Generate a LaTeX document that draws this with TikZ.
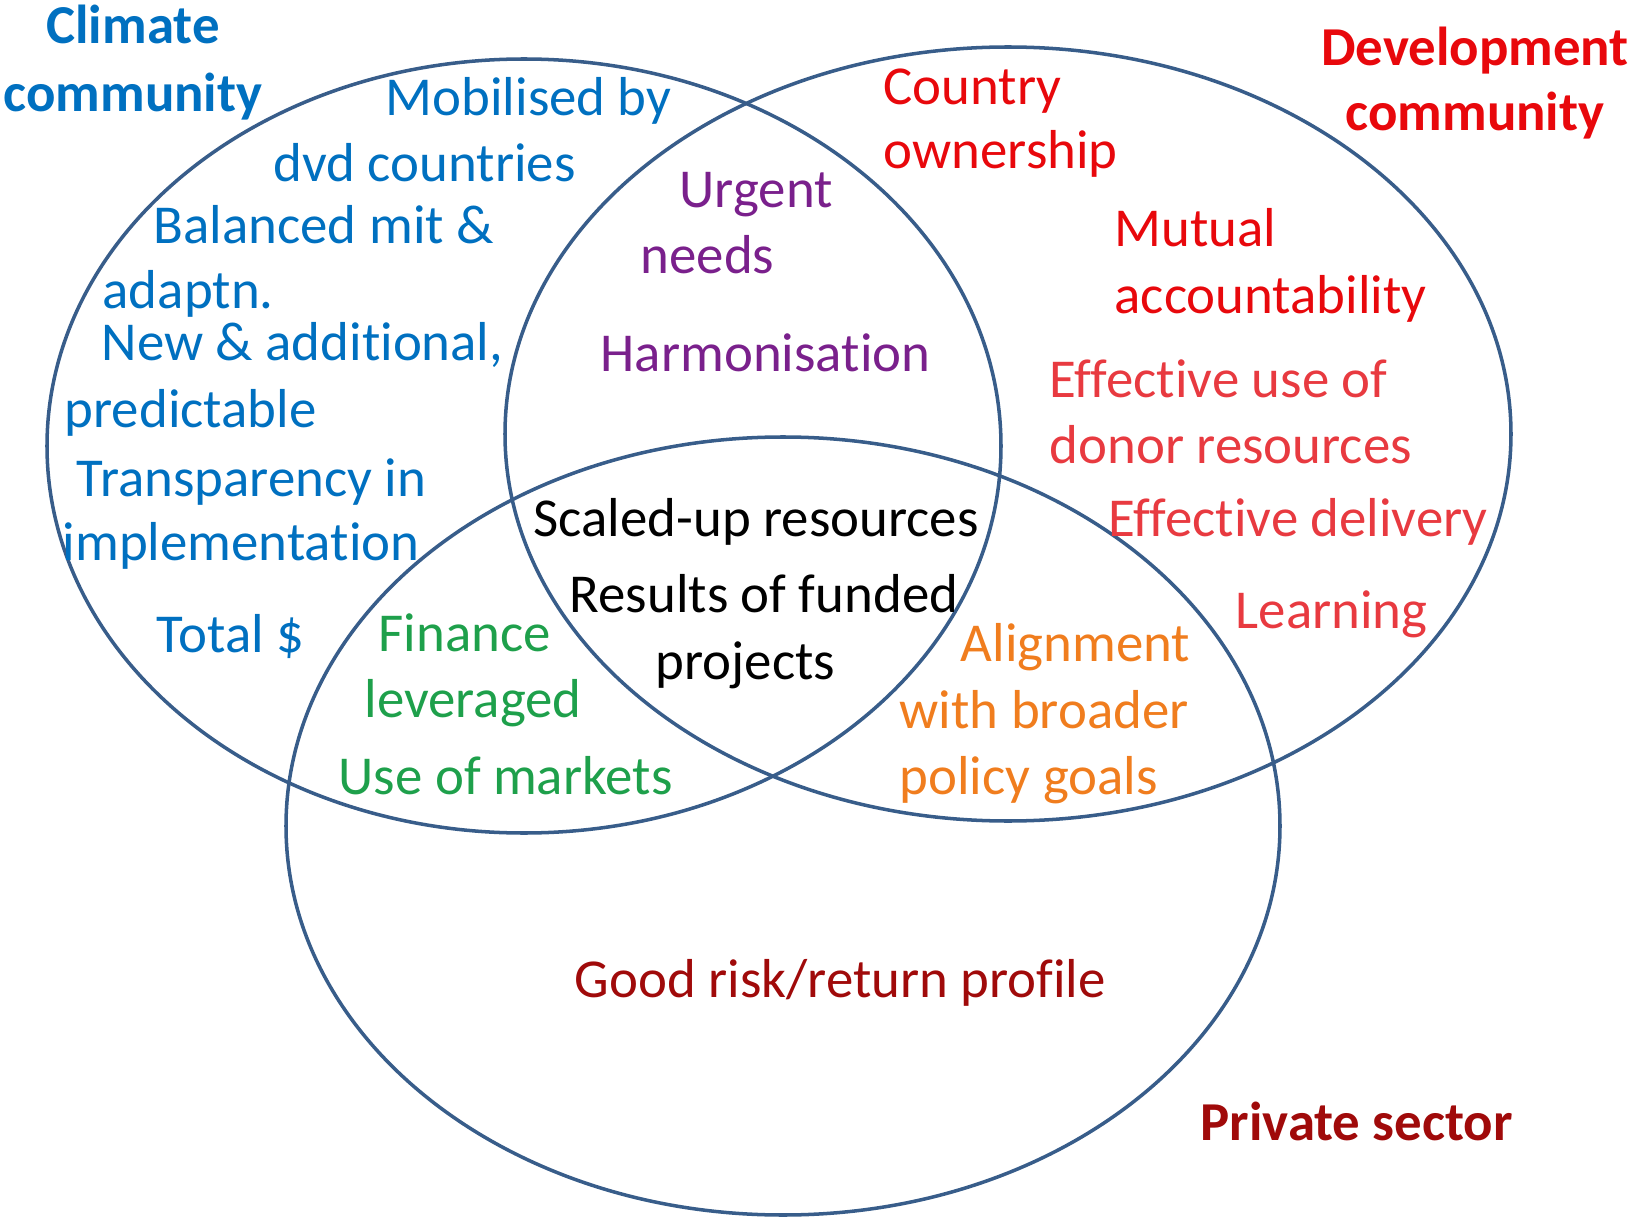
\documentclass[tikz,border=0pt]{standalone}
\usepackage{fontspec}
\setmainfont{Carlito}[Ligatures=NoCommon]
\usepackage{tikz}

\definecolor{ringcol}{RGB}{56,93,138}
\definecolor{climblue}{RGB}{0,112,192}
\definecolor{devred}{RGB}{232,8,12}
\definecolor{devpink}{RGB}{232,58,64}
\definecolor{sharedpurple}{RGB}{122,32,140}
\definecolor{levgreen}{RGB}{30,160,75}
\definecolor{alignorange}{RGB}{240,125,30}
\definecolor{privred}{RGB}{160,10,10}

\begin{document}
\begin{tikzpicture}[
  x = 0.01cm, y = -0.01cm,
  set/.style  = {draw = ringcol, line width = 1pt},
  item/.style = {anchor = base west, inner sep = 0pt,
                 font = \fontsize{15.6}{18.7}\selectfont},
  head/.style = {anchor = base, inner sep = 0pt,
                 font = \fontsize{15.6}{18.7}\selectfont\bfseries}
]
\useasboundingbox (0,0) rectangle (1632,1218);

% the three communities
\draw [set] (524,446)  ellipse [x radius = 477, y radius = 387];
\draw [set] (1008,434) ellipse [x radius = 503, y radius = 387];
\draw [set] (783,826)  ellipse [x radius = 497, y radius = 389];

\node (climA) [head, climblue] at (133,44)  {Climate};
\node (climB) [head, climblue] at (133,111) {community};
\node (devA)  [head, devred]   at (1475,65)  {Development};
\node (devB)  [head, devred]   at (1475,130) {community};
\node (priv)  [item, privred, font = \fontsize{15.6}{18.7}\selectfont\bfseries]
  at (1200,1140) {Private sector};

% climate only
\node (mob)   [item, climblue] at (385,116) {Mobilised by};
\node (dvd)   [item, climblue] at (273,182) {dvd countries};
\node (bal)   [item, climblue] at (153,243) {Balanced mit \&};
\node (adap)  [item, climblue] at (102,308) {adaptn.};
\node (new)   [item, climblue] at (101,360) {New \& additional,};
\node (pred)  [item, climblue] at (64,427)  {predictable};
\node (trans) [item, climblue] at (76,496)  {Transparency in};
\node (impl)  [item, climblue] at (62,560)  {implementation};
\node (total) [item, climblue] at (156,652) {Total \$};

% climate and development
\node (urg)   [item, sharedpurple] at (679,207) {Urgent};
\node (needs) [item, sharedpurple] at (640,273) {needs};
\node (harm)  [item, sharedpurple] at (600,371) {Harmonisation};

% development only
\node (ctry)  [item, devred]  at (883,104)  {Country};
\node (own)   [item, devred]  at (883,169)  {ownership};
\node (mut)   [item, devred]  at (1114,246) {Mutual};
\node (acc)   [item, devred]  at (1114,313) {accountability};
\node (effA)  [item, devpink] at (1049,397) {Effective use of};
\node (effB)  [item, devpink] at (1049,463) {donor resources};
\node (deliv) [item, devpink] at (1108,536) {Effective delivery};
\node (learn) [item, devpink] at (1235,628) {Learning};

% all three
\node (scal)  [item] at (533,536) {Scaled-up resources};
\node (res)   [item] at (569,612) {Results of funded};
\node (proj)  [item] at (655,679) {projects};

% climate and private
\node (finA)  [item, levgreen] at (378,651) {Finance};
\node (finB)  [item, levgreen] at (364,717) {leveraged};
\node (mkt)   [item, levgreen] at (338,794) {Use of markets};

% development and private
\node (alA)   [item, alignorange] at (960,661) {Alignment};
\node (alB)   [item, alignorange] at (899,728) {with broader};
\node (alC)   [item, alignorange] at (899,794) {policy goals};

% private only
\node (risk)  [item, privred] at (574,997) {Good risk/return profile};

\end{tikzpicture}
\end{document}
